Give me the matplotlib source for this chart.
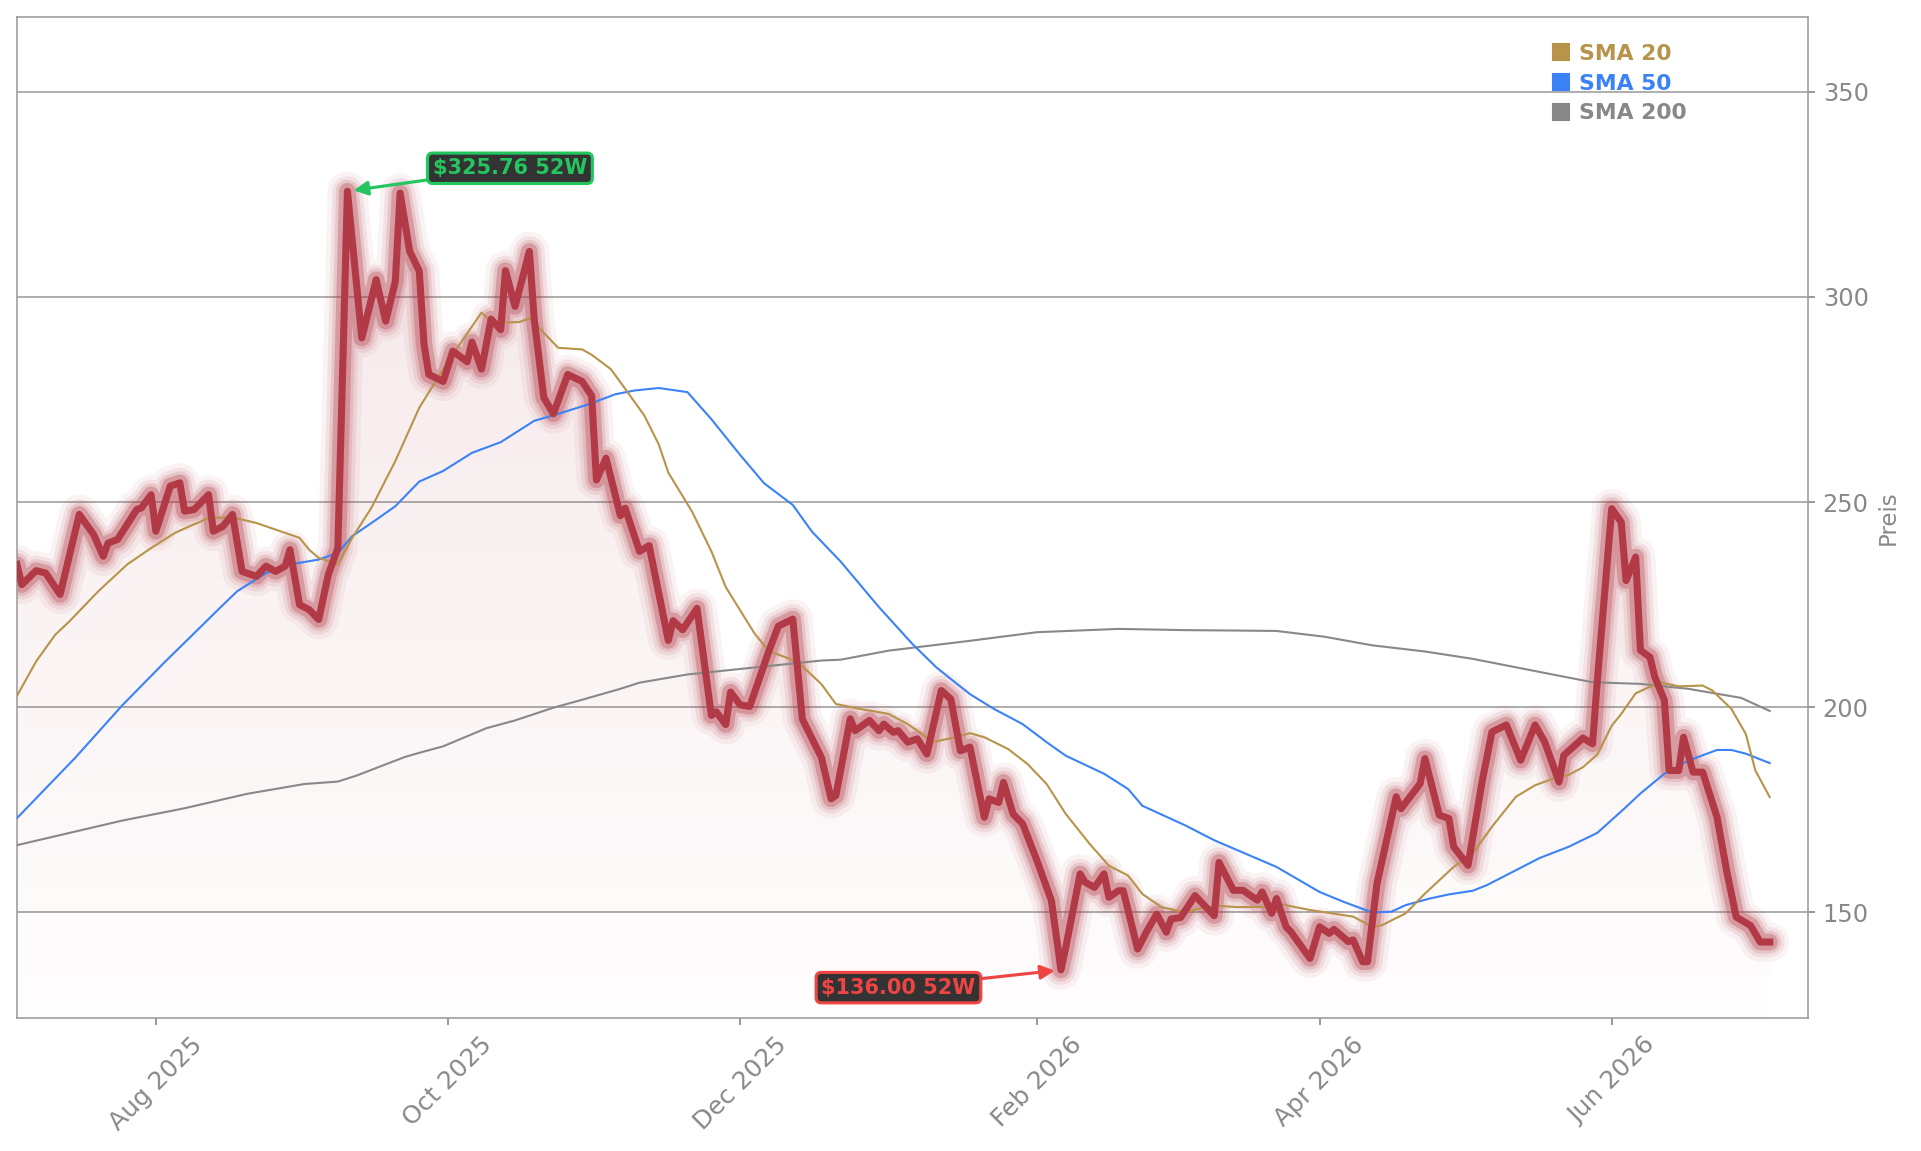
import numpy as np
import matplotlib
matplotlib.use("Agg")
import matplotlib.pyplot as plt
import matplotlib.dates as mdates
from matplotlib.colors import to_rgb
from matplotlib.lines import Line2D

# Startdatum der Reihe, alle Tage als Versatz dazu
start = np.datetime64("2025-07-03")

# Kurs (Tagesversatz, Preis)
price_day = [0, 1, 4, 6, 9, 13, 16, 18, 19, 21, 25, 26, 28, 29, 32, 34, 35, 37, 40, 41,
             43, 45, 47, 48, 50, 52, 54, 56, 57, 59, 61, 63, 65, 67, 69, 72, 75, 77, 79, 80,
             82, 84, 85, 86, 89, 91, 94, 95, 97, 99, 101, 102, 104, 107, 108, 110, 112, 115, 118, 120,
             121, 123, 126, 127, 130, 132, 136, 137, 139, 142, 145, 146, 148, 149, 151, 153, 157, 159, 162, 164,
             168, 170, 171, 174, 175, 178, 180, 181, 183, 184, 186, 188, 190, 193, 195, 197, 199, 202, 203, 205,
             206, 208, 210, 213, 216, 218, 219, 222, 223, 225, 227, 228, 230, 231, 234, 236, 238, 240, 241, 243,
             246, 250, 251, 254, 256, 259, 260, 262, 263, 265, 266, 270, 272, 274, 275, 278, 279, 281, 282, 284,
             286, 288, 289, 293, 294, 297, 299, 300, 303, 306, 308, 311, 314, 317, 319, 322, 323, 327, 329, 330,
             333, 335, 336, 338, 339, 341, 342, 344, 345, 347, 348, 350, 352, 355, 357, 359, 362, 364, 366]
price = [234.8, 229.9, 233.3, 232.7, 227.5, 247.0, 242.1, 236.8, 240.0, 240.9, 248.2, 248.6, 251.8, 242.9, 253.9, 254.7, 247.8, 248.2, 251.8, 242.9,
         244.1, 247.0, 233.1, 232.7, 231.9, 234.4, 233.1, 234.4, 238.4, 225.0, 223.8, 221.4, 232.3, 238.8, 325.76, 290.0, 304.2, 294.1, 303.8, 325.3,
         311.1, 306.3, 288.4, 281.1, 279.4, 286.8, 284.2, 289.0, 282.4, 294.6, 292.0, 306.4, 297.7, 311.1, 294.6, 275.5, 271.5, 281.1, 279.4, 275.9,
         255.4, 260.7, 246.7, 248.5, 238.0, 239.4, 216.3, 221.1, 218.9, 224.1, 198.0, 198.9, 195.8, 203.7, 200.6, 200.2, 213.7, 219.8, 221.5, 197.1,
         187.7, 177.7, 178.5, 197.2, 194.3, 196.8, 194.3, 195.9, 193.9, 194.3, 191.5, 192.3, 188.6, 204.1, 202.0, 189.4, 190.3, 173.2, 177.7, 176.8,
         181.7, 174.0, 171.6, 162.6, 152.9, 136.0, 141.5, 159.4, 157.4, 156.1, 159.4, 153.7, 155.3, 155.3, 141.1, 145.6, 149.6, 145.2, 148.4, 148.8,
         154.1, 149.2, 162.2, 155.4, 155.4, 153.0, 155.0, 149.8, 153.4, 146.5, 145.3, 138.8, 146.5, 144.9, 145.9, 142.9, 143.3, 138.0, 138.0, 157.1,
         167.6, 178.2, 175.3, 181.4, 187.5, 173.7, 172.9, 166.0, 161.5, 182.3, 194.0, 195.7, 187.1, 195.7, 191.6, 181.8, 188.3, 192.5, 191.1, 206.5,
         248.4, 245.1, 230.9, 236.6, 213.9, 212.2, 207.4, 201.7, 184.6, 184.6, 192.7, 184.2, 184.2, 173.2, 160.2, 148.9, 146.8, 142.8, 142.8]

# SMA 20
sma20_day = [0, 4, 8, 11, 17, 23, 28, 33, 36, 40, 45, 50, 56, 59, 61, 63, 67, 70, 74, 79,
             84, 88, 93, 97, 99, 101, 105, 107, 108, 113, 118, 120, 124, 127, 131, 134, 136, 141, 145, 148,
             154, 157, 163, 168, 171, 176, 182, 186, 189, 191, 196, 199, 202, 207, 211, 215, 219, 224, 228, 232,
             235, 239, 244, 248, 251, 255, 262, 264, 270, 279, 283, 285, 290, 294, 300, 304, 308, 313, 317, 321,
             324, 327, 330, 333, 335, 338, 343, 347, 352, 354, 358, 361, 363, 366]
sma20 = [202.8, 211.2, 217.7, 221.0, 228.3, 234.8, 238.8, 242.5, 244.1, 246.1, 246.3, 244.9, 242.5, 241.3, 238.4, 236.4, 234.8, 241.3, 248.6, 260.0,
         273.0, 280.5, 289.4, 296.2, 293.9, 293.7, 293.9, 294.8, 293.7, 287.6, 287.2, 285.9, 282.4, 277.6, 271.1, 264.1, 257.2, 247.6, 238.0, 229.3,
         218.0, 213.7, 211.1, 205.6, 200.8, 199.6, 198.4, 195.9, 193.5, 191.5, 192.7, 193.7, 192.7, 189.8, 186.2, 181.3, 174.0, 166.7, 161.4, 159.0,
         154.5, 151.3, 150.0, 151.3, 151.6, 151.3, 151.4, 152.0, 150.6, 149.0, 146.5, 146.9, 149.8, 154.6, 161.1, 164.4, 170.9, 178.2, 181.0, 182.7,
         183.5, 185.4, 188.5, 195.5, 198.4, 203.4, 206.1, 205.1, 205.3, 204.1, 199.6, 193.5, 184.6, 178.1]

# SMA 50
sma50_day = [0, 12, 22, 31, 36, 42, 46, 52, 57, 63, 67, 70, 75, 79, 84, 89, 95, 101, 108, 113,
             119, 125, 129, 134, 140, 145, 151, 156, 162, 166, 172, 180, 187, 192, 199, 204, 210, 215, 219, 227,
             232, 235, 244, 250, 255, 263, 272, 277, 283, 287, 290, 295, 299, 304, 307, 313, 318, 324, 330, 336,
             339, 344, 349, 355, 358, 361, 366]
sma50 = [173.0, 187.5, 200.5, 211.2, 216.9, 223.8, 228.3, 232.7, 234.8, 236.0, 237.6, 241.7, 245.7, 249.0, 255.0, 257.6, 262.0, 264.6, 269.8, 271.5,
         273.7, 276.3, 277.2, 277.8, 276.8, 270.2, 261.5, 254.6, 249.3, 242.8, 235.5, 224.4, 215.4, 209.7, 203.2, 199.6, 195.9, 191.5, 188.2, 183.8,
         180.1, 176.0, 171.2, 167.6, 165.1, 161.1, 155.0, 152.6, 150.0, 150.2, 151.8, 153.4, 154.4, 155.3, 156.7, 160.3, 163.3, 166.0, 169.4, 175.7,
         179.0, 183.8, 187.0, 189.6, 189.6, 188.7, 186.4]

# SMA 200
sma200_day = [0, 22, 35, 48, 60, 67, 71, 81, 84, 89, 98, 104, 112, 117, 126, 130, 140, 154, 168, 172,
              182, 199, 213, 230, 244, 255, 263, 273, 283, 294, 304, 318, 329, 339, 349, 360, 366]
sma200 = [166.4, 172.4, 175.4, 178.9, 181.3, 181.9, 183.4, 187.9, 188.9, 190.5, 194.9, 196.8, 199.9, 201.5, 204.5, 206.0, 208.0, 209.7, 211.4, 211.6,
          213.8, 216.2, 218.3, 219.1, 218.8, 218.7, 218.6, 217.2, 215.1, 213.6, 211.8, 208.6, 206.1, 205.7, 204.5, 202.3, 199.1]

hi_label = "$325.76 52W"
lo_label = "$136.00 52W"

c_price = "#B23A46"
c_sma20 = "#B8934A"
c_sma50 = "#3B82F6"
c_sma200 = "#888888"
c_hi = "#22C55E"
c_lo = "#EF4444"
c_txt = "#888888"

d_price = start + np.array(price_day)
d_sma20 = start + np.array(sma20_day)
d_sma50 = start + np.array(sma50_day)
d_sma200 = start + np.array(sma200_day)

fig = plt.figure(figsize=(1921 / 150, 1151 / 150), dpi=150)
ax = fig.add_axes([0.00885, 0.1156, 0.9412 - 0.00885, 0.9852 - 0.1156])

y0, y1 = 124.3, 368.2
x0 = mdates.date2num(start)
x1 = mdates.date2num(start + np.timedelta64(374, "D"))

# Verlaufsfüllung unter dem Kurs
xs = mdates.date2num(d_price)
poly = ax.fill_between(xs, price, y0, color="none", lw=0)
grad = np.zeros((256, 1, 4))
grad[..., :3] = to_rgb(c_price)
grad[:, 0, 3] = np.linspace(0.14, 0.01, 256)
im = ax.imshow(grad, extent=[xs[0], xs[-1], y0, y1], origin="upper",
               aspect="auto", zorder=1, interpolation="bilinear")
im.set_clip_path(poly.get_paths()[0], ax.transData)

# Glow in Ringen
for lw, a in [(19, 0.06), (14.5, 0.1), (11, 0.15), (8, 0.3)]:
    ax.plot(d_price, price, color=c_price, lw=lw, alpha=a, solid_capstyle="round",
            solid_joinstyle="round", zorder=2)

ax.plot(d_sma200, sma200, color=c_sma200, lw=1.0, zorder=3)
ax.plot(d_sma50, sma50, color=c_sma50, lw=1.0, zorder=3)
ax.plot(d_sma20, sma20, color=c_sma20, lw=1.0, zorder=3)
ax.plot(d_price, price, color=c_price, lw=3.4, solid_joinstyle="round", zorder=4)

# 52W Hoch / Tief
i_hi = int(np.argmax(price))
i_lo = int(np.argmin(price))
ax.annotate(hi_label, xy=(d_price[i_hi], price[i_hi]), xytext=(78, 11),
            textcoords="offset points", ha="center", va="center",
            color=c_hi, fontsize=10, fontweight="bold", zorder=6,
            bbox=dict(boxstyle="round,pad=0.25", fc="#333333", ec=c_hi, lw=1.5),
            arrowprops=dict(arrowstyle="-|>", color=c_hi, lw=1.5, mutation_scale=14,
                            shrinkA=0, shrinkB=3))
ax.annotate(lo_label, xy=(d_price[i_lo], price[i_lo]), xytext=(-78, -8.5),
            textcoords="offset points", ha="center", va="center",
            color=c_lo, fontsize=10, fontweight="bold", zorder=6,
            bbox=dict(boxstyle="round,pad=0.25", fc="#333333", ec=c_lo, lw=1.5),
            arrowprops=dict(arrowstyle="-|>", color=c_lo, lw=1.5, mutation_scale=14,
                            shrinkA=0, shrinkB=3))

ax.set_xlim(x0, x1)
ax.set_ylim(y0, y1)
ax.set_yticks([150, 200, 250, 300, 350])
ax.yaxis.tick_right()
ax.yaxis.set_label_position("right")
ax.set_ylabel("Preis", color=c_txt, fontsize=11)
ax.xaxis.set_major_locator(mdates.MonthLocator(bymonth=[2, 4, 6, 8, 10, 12]))
ax.xaxis.set_major_formatter(mdates.DateFormatter("%b %Y"))
ax.tick_params(axis="x", labelsize=12, colors=c_txt, labelrotation=45)
ax.tick_params(axis="y", labelsize=11.5, colors=c_txt)
ax.grid(axis="y", color="#999999", lw=0.75)
ax.set_axisbelow(True)
for s in ax.spines.values():
    s.set_color("#999999")
    s.set_linewidth(0.75)

handles = [Line2D([], [], marker="s", ls="none", color=c, markersize=7.5)
           for c in (c_sma20, c_sma50, c_sma200)]
leg = ax.legend(handles, ["SMA 20", "SMA 50", "SMA 200"], loc="upper left",
                bbox_to_anchor=(0.846, 0.993), frameon=False, handlelength=0.8,
                handletextpad=0.45, labelspacing=0.45,
                prop={"size": 10.5, "weight": "bold"}, labelcolor="linecolor")

fig.savefig("out.png", dpi=150)
